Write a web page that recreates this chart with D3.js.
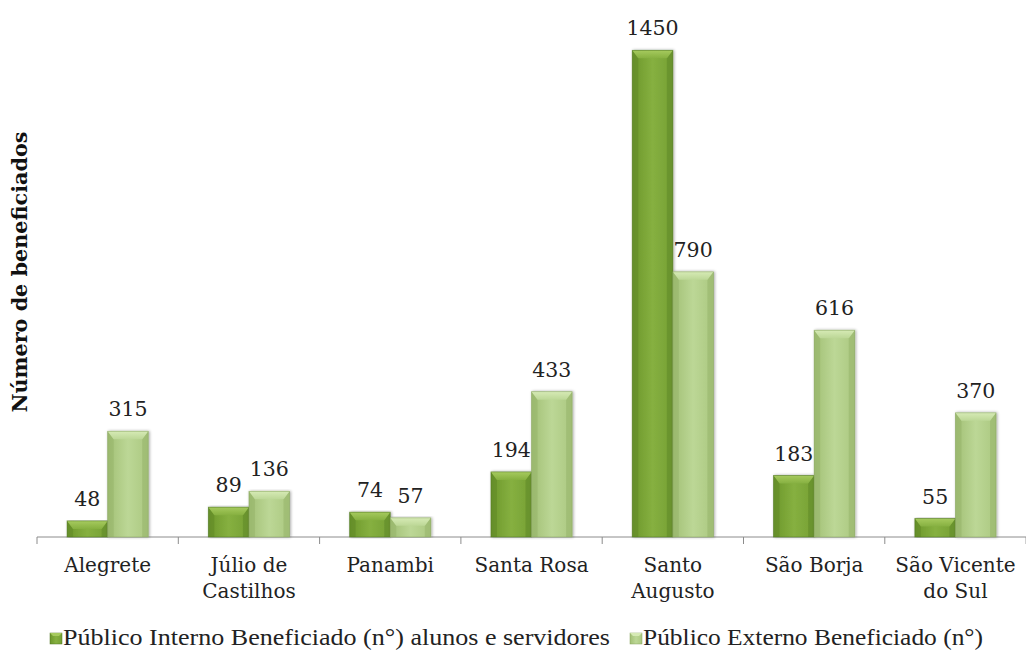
<!DOCTYPE html>
<html>
<head>
<meta charset="utf-8">
<script src="https://cdn.jsdelivr.net/npm/d3@7"></script>
<style>
  html, body { margin: 0; padding: 0; background: #fff; }
  svg { display: block; }
</style>
</head>
<body>
<svg id="chart" width="1026" height="650"></svg>
<script>
// Beneficiaries per campus
const categories = [["Alegrete"], ["Júlio de", "Castilhos"], ["Panambi"], ["Santa Rosa"], ["Santo", "Augusto"], ["São Borja"], ["São Vicente", "do Sul"]];
const seriesNames = ["Público Interno Beneficiado (n°) alunos e servidores", "Público Externo Beneficiado (n°)"];
const interno = [48, 89, 74, 194, 1450, 183, 55];
const externo = [315, 136, 57, 433, 790, 616, 370];
const yTitle = "Número de beneficiados";

const svg = d3.select("#chart");
const W = 1026, H = 650;
const margin = { left: 37, right: 0, top: 0, bottom: 113 };
const baseY = H - margin.bottom;

const x = d3.scaleBand().domain(d3.range(categories.length)).range([margin.left, margin.left + 141.3 * 7]);
const inner = d3.scaleBand().domain([0, 1]).range([0, x.bandwidth()]).paddingInner(0).paddingOuter(0.74);
const y = d3.scaleLinear().domain([0, 1600]).range([baseY, 0]);

const serif = "'DejaVu Serif', serif";

// gradients
const defs = svg.append("defs");
const palettes = [
  { face: ["#6c972b", "#86b040", "#75a034"], top: "#a6ca5e", side: "#5e8526", edge: "#4f7420" },
  { face: ["#a2c075", "#bcd796", "#abc880"], top: "#d6eab5", side: "#93b167", edge: "#86a35c" }
];
palettes.forEach((p, i) => {
  const g = defs.append("linearGradient").attr("id", "face" + i).attr("x1", 0).attr("x2", 1).attr("y1", 0).attr("y2", 0);
  g.append("stop").attr("offset", "0%").attr("stop-color", p.face[0]);
  g.append("stop").attr("offset", "50%").attr("stop-color", p.face[1]);
  g.append("stop").attr("offset", "100%").attr("stop-color", p.face[2]);
  const t = defs.append("linearGradient").attr("id", "top" + i).attr("x1", 0).attr("x2", 0).attr("y1", 0).attr("y2", 1);
  t.append("stop").attr("offset", "0%").attr("stop-color", p.top);
  t.append("stop").attr("offset", "100%").attr("stop-color", p.face[1]);
});
const shadow = defs.append("filter").attr("id", "shadow").attr("x", "-20%").attr("y", "-5%").attr("width", "140%").attr("height", "110%");
shadow.append("feGaussianBlur").attr("in", "SourceAlpha").attr("stdDeviation", 1.5);
shadow.append("feOffset").attr("dx", 1).attr("dy", 0).attr("result", "b");
shadow.append("feComponentTransfer").append("feFuncA").attr("type", "linear").attr("slope", 0.35);
const merge = shadow.append("feMerge");
merge.append("feMergeNode");
merge.append("feMergeNode").attr("in", "SourceGraphic");

// x axis line and category ticks
const axisG = svg.append("g");
axisG.append("line").attr("x1", margin.left).attr("x2", W).attr("y1", baseY).attr("y2", baseY)
  .attr("stroke", "#8c8c8c").attr("stroke-width", 1);
d3.range(categories.length + 1).forEach(i => {
  const xx = i < categories.length ? x(i) : x(categories.length - 1) + x.bandwidth();
  axisG.append("line").attr("x1", xx).attr("x2", xx).attr("y1", baseY).attr("y2", baseY + 7)
    .attr("stroke", "#8c8c8c").attr("stroke-width", 1);
});

// bars
const series = [interno, externo];
series.forEach((vals, s) => {
  const p = palettes[s];
  vals.forEach((v, i) => {
    const x0 = x(i) + inner(s), w = inner.bandwidth();
    const yt = y(v), h = baseY - yt;
    const bev = Math.min(8, h / 2), sw = 6;
    const g = svg.append("g").attr("filter", "url(#shadow)");
    g.append("rect").attr("x", x0).attr("y", yt).attr("width", w).attr("height", h).attr("fill", "url(#face" + s + ")");
    // left / right side strips
    g.append("polygon").attr("points", [[x0, yt], [x0 + sw, yt + bev], [x0 + sw, baseY], [x0, baseY]].join(" "))
      .attr("fill", p.side).attr("opacity", 0.5);
    g.append("polygon").attr("points", [[x0 + w, yt], [x0 + w - sw, yt + bev], [x0 + w - sw, baseY], [x0 + w, baseY]].join(" "))
      .attr("fill", p.side).attr("opacity", 0.5);
    // top bevel
    g.append("polygon").attr("points", [[x0, yt], [x0 + w, yt], [x0 + w - sw, yt + bev], [x0 + sw, yt + bev]].join(" "))
      .attr("fill", "url(#top" + s + ")");
    g.append("rect").attr("x", x0).attr("y", yt).attr("width", w).attr("height", h)
      .attr("fill", "none").attr("stroke", p.edge).attr("stroke-width", 0.8).attr("stroke-opacity", 0.6);
    // value label
    svg.append("text").attr("x", x0 + w / 2).attr("y", yt - 15)
      .attr("text-anchor", "middle").attr("font-family", serif).attr("font-size", 20.5)
      .attr("fill", "#222").text(v);
  });
});

// category labels
categories.forEach((lines, i) => {
  const cx = x(i) + x.bandwidth() / 2;
  const t = svg.append("text").attr("x", cx).attr("y", 572)
    .attr("text-anchor", "middle").attr("font-family", serif).attr("font-size", 20).attr("fill", "#222");
  lines.forEach((ln, k) => t.append("tspan").attr("x", cx).attr("dy", k ? 26 : 0).text(ln));
});

// y axis title
svg.append("text").attr("transform", "translate(27,272) rotate(-90)")
  .attr("text-anchor", "middle").attr("font-family", serif).attr("font-weight", "bold").attr("font-size", 20)
  .attr("textLength", 281).attr("lengthAdjust", "spacingAndGlyphs")
  .attr("fill", "#111").text(yTitle);

// legend
const legend = svg.append("g").attr("transform", "translate(0,645)");
const legX = [50, 630];
const legEnd = [610, 983];
seriesNames.forEach((name, s) => {
  const p = palettes[s];
  const mx = legX[s];
  legend.append("rect").attr("x", mx).attr("y", -12).attr("width", 12).attr("height", 11).attr("fill", "url(#face" + s + ")")
    .attr("stroke", p.edge).attr("stroke-width", 0.5);
  legend.append("polygon").attr("points", [[mx, -12], [mx + 12, -12], [mx + 9, -9], [mx + 3, -9]].join(" ")).attr("fill", p.top);
  legend.append("text").attr("x", mx + 13).attr("y", 0).attr("font-family", "'Liberation Serif', serif").attr("font-size", 23)
    .attr("textLength", legEnd[s] - mx - 13).attr("lengthAdjust", "spacingAndGlyphs").attr("fill", "#222").text(name);
});
</script>
</body>
</html>
